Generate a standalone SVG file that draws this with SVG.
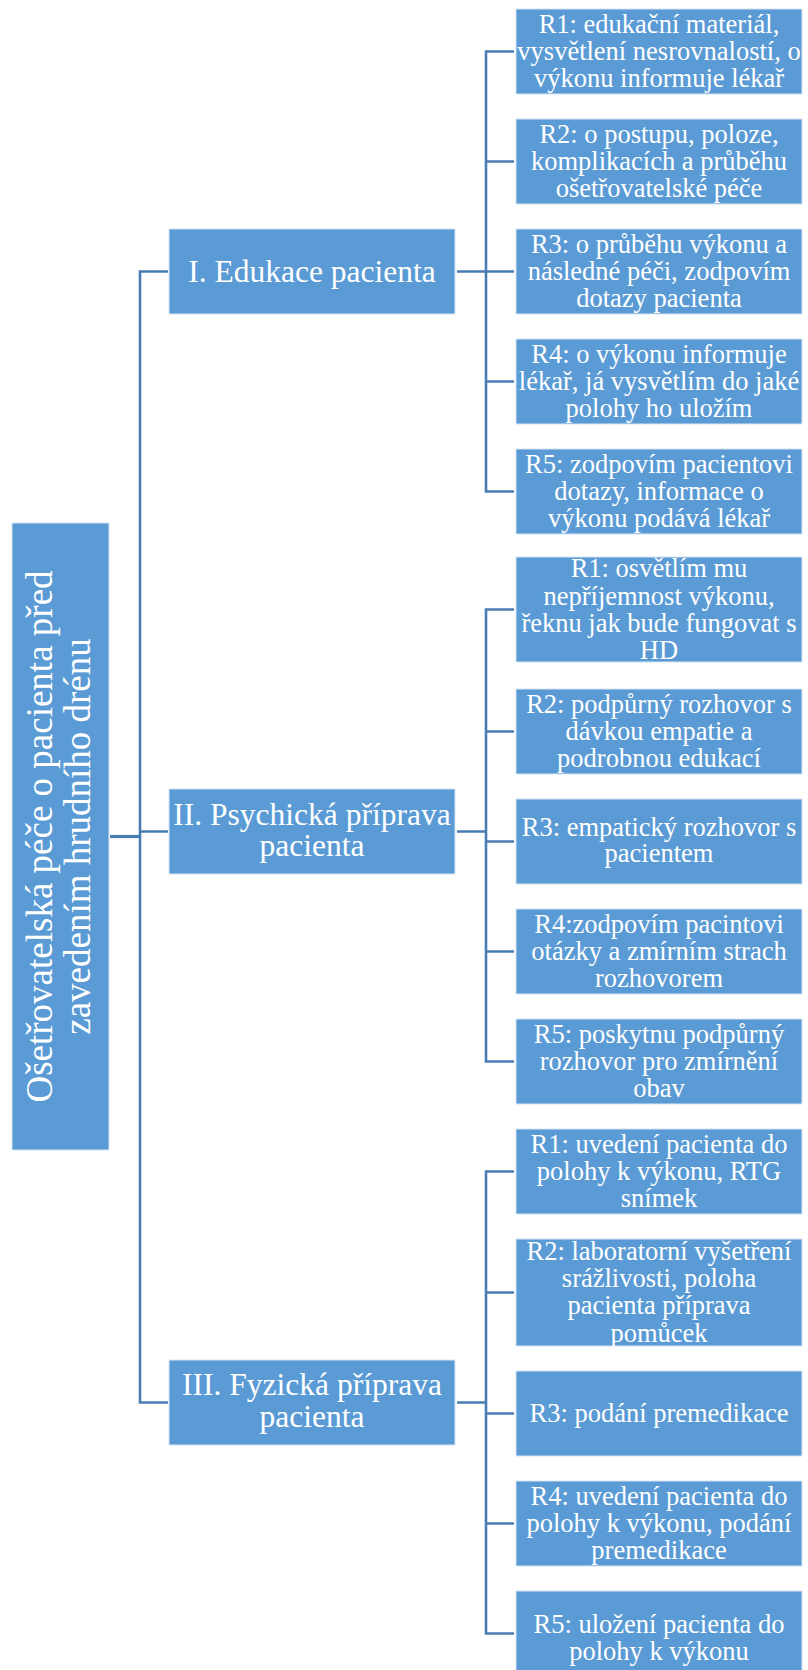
<svg xmlns="http://www.w3.org/2000/svg" width="808" height="1670" viewBox="0 0 808 1670">
  <style>
    .box { fill: #5b9bd5; stroke: #d6e4f2; stroke-width: 1; }
    .lbl { fill: #ffffff; font-family: "Liberation Serif", "Times New Roman", serif; text-anchor: middle; }
    .l0 { font-size: 37px; }
    .l1 { font-size: 31.5px; }
    .l2 { font-size: 26.5px; }
    .wire { fill: none; stroke: #4a7cb4; stroke-width: 2.6; }
  </style>

  <!-- connectors -->
  <g id="connectors">
    <path class="wire" d="M110,836.5 H140" style="stroke-width:3.2"/>
    <path class="wire" d="M168,271.5 H140 V1402.5 H168 M140,831.5 H168"/>
    <path class="wire" d="M457,271.5 H486 M457,831.5 H486 M457,1402.5 H486"/>
    <!-- group I -->
    <path class="wire" d="M514,51.5 H486 V491.5 H514 M486,161.5 H514 M486,271.5 H514 M486,381.5 H514"/>
    <!-- group II -->
    <path class="wire" d="M514,609.5 H486 V1061.5 H514 M486,731.5 H514 M486,841.5 H514 M486,951.5 H514"/>
    <!-- group III -->
    <path class="wire" d="M514,1171.5 H486 V1633.5 H514 M486,1292.5 H514 M486,1413.5 H514 M486,1523.5 H514"/>
  </g>

  <!-- root -->
  <g id="root">
    <rect class="box" x="12" y="523" width="97" height="627"/>
    <g transform="translate(60.5,836.5) rotate(-90)">
      <text class="lbl l0" x="0" y="-8.8">Ošetřovatelská péče o pacienta před</text>
      <text class="lbl l0" x="0" y="29.5">zavedením hrudního drénu</text>
    </g>
  </g>

  <!-- level 1 -->
  <g id="edukace">
    <rect class="box" x="169" y="229" width="286" height="85"/>
    <text class="lbl l1" x="312" y="282">I. Edukace pacienta</text>
  </g>
  <g id="psychicka">
    <rect class="box" x="169" y="789" width="286" height="85"/>
    <text class="lbl l1" x="312" y="825">II. Psychická příprava</text>
    <text class="lbl l1" x="312" y="856">pacienta</text>
  </g>
  <g id="fyzicka">
    <rect class="box" x="169" y="1360" width="286" height="85"/>
    <text class="lbl l1" x="312" y="1395">III. Fyzická příprava</text>
    <text class="lbl l1" x="312" y="1426.5">pacienta</text>
  </g>

  <!-- group I: edukace -->
  <g id="edu-r1">
    <rect class="box" x="516" y="9" width="286" height="85"/>
    <text class="lbl l2" x="659" y="32.5">R1: edukační materiál,</text>
    <text class="lbl l2" x="659" y="60">vysvětlení nesrovnalostí, o</text>
    <text class="lbl l2" x="659" y="87.3">výkonu informuje lékař</text>
  </g>
  <g id="edu-r2">
    <rect class="box" x="516" y="119" width="286" height="85"/>
    <text class="lbl l2" x="659" y="142.5">R2: o postupu, poloze,</text>
    <text class="lbl l2" x="659" y="170">komplikacích a průběhu</text>
    <text class="lbl l2" x="659" y="197.3">ošetřovatelské péče</text>
  </g>
  <g id="edu-r3">
    <rect class="box" x="516" y="229" width="286" height="85"/>
    <text class="lbl l2" x="659" y="252.5">R3: o průběhu výkonu a</text>
    <text class="lbl l2" x="659" y="280">následné péči, zodpovím</text>
    <text class="lbl l2" x="659" y="307.3">dotazy pacienta</text>
  </g>
  <g id="edu-r4">
    <rect class="box" x="516" y="339" width="286" height="85"/>
    <text class="lbl l2" x="659" y="362.5">R4: o výkonu informuje</text>
    <text class="lbl l2" x="659" y="390">lékař, já vysvětlím do jaké</text>
    <text class="lbl l2" x="659" y="417.3">polohy ho uložím</text>
  </g>
  <g id="edu-r5">
    <rect class="box" x="516" y="449" width="286" height="85"/>
    <text class="lbl l2" x="659" y="472.5">R5: zodpovím pacientovi</text>
    <text class="lbl l2" x="659" y="500">dotazy, informace o</text>
    <text class="lbl l2" x="659" y="527.3">výkonu podává lékař</text>
  </g>

  <!-- group II: psychicka -->
  <g id="psy-r1">
    <rect class="box" x="516" y="557" width="286" height="105"/>
    <text class="lbl l2" x="659" y="577.3">R1: osvětlím mu</text>
    <text class="lbl l2" x="659" y="604.6">nepříjemnost výkonu,</text>
    <text class="lbl l2" x="659" y="631.9">řeknu jak bude fungovat s</text>
    <text class="lbl l2" x="659" y="659.2">HD</text>
  </g>
  <g id="psy-r2">
    <rect class="box" x="516" y="689" width="286" height="85"/>
    <text class="lbl l2" x="659" y="712.5">R2: podpůrný rozhovor s</text>
    <text class="lbl l2" x="659" y="740">dávkou empatie a</text>
    <text class="lbl l2" x="659" y="767.3">podrobnou edukací</text>
  </g>
  <g id="psy-r3">
    <rect class="box" x="516" y="799" width="286" height="85"/>
    <text class="lbl l2" x="659" y="835.5">R3: empatický rozhovor s</text>
    <text class="lbl l2" x="659" y="862">pacientem</text>
  </g>
  <g id="psy-r4">
    <rect class="box" x="516" y="909" width="286" height="85"/>
    <text class="lbl l2" x="659" y="932.5">R4:zodpovím pacintovi</text>
    <text class="lbl l2" x="659" y="960">otázky a zmírním strach</text>
    <text class="lbl l2" x="659" y="987.3">rozhovorem</text>
  </g>
  <g id="psy-r5">
    <rect class="box" x="516" y="1019" width="286" height="85"/>
    <text class="lbl l2" x="659" y="1042.5">R5: poskytnu podpůrný</text>
    <text class="lbl l2" x="659" y="1070">rozhovor pro zmírnění</text>
    <text class="lbl l2" x="659" y="1097.3">obav</text>
  </g>

  <!-- group III: fyzicka -->
  <g id="fyz-r1">
    <rect class="box" x="516" y="1129" width="286" height="85"/>
    <text class="lbl l2" x="659" y="1152.5">R1: uvedení pacienta do</text>
    <text class="lbl l2" x="659" y="1180">polohy k výkonu, RTG</text>
    <text class="lbl l2" x="659" y="1207.3">snímek</text>
  </g>
  <g id="fyz-r2">
    <rect class="box" x="516" y="1239" width="286" height="107"/>
    <text class="lbl l2" x="659" y="1259.8">R2: laboratorní vyšetření</text>
    <text class="lbl l2" x="659" y="1287.1">srážlivosti, poloha</text>
    <text class="lbl l2" x="659" y="1314.4">pacienta příprava</text>
    <text class="lbl l2" x="659" y="1341.7">pomůcek</text>
  </g>
  <g id="fyz-r3">
    <rect class="box" x="516" y="1371" width="286" height="85"/>
    <text class="lbl l2" x="659" y="1421.7">R3: podání premedikace</text>
  </g>
  <g id="fyz-r4">
    <rect class="box" x="516" y="1481" width="286" height="85"/>
    <text class="lbl l2" x="659" y="1504.5">R4: uvedení pacienta do</text>
    <text class="lbl l2" x="659" y="1532">polohy k výkonu, podání</text>
    <text class="lbl l2" x="659" y="1559.3">premedikace</text>
  </g>
  <g id="fyz-r5">
    <rect class="box" x="516" y="1591" width="286" height="85"/>
    <text class="lbl l2" x="659" y="1632.8">R5: uložení pacienta do</text>
    <text class="lbl l2" x="659" y="1660">polohy k výkonu</text>
  </g>
</svg>
